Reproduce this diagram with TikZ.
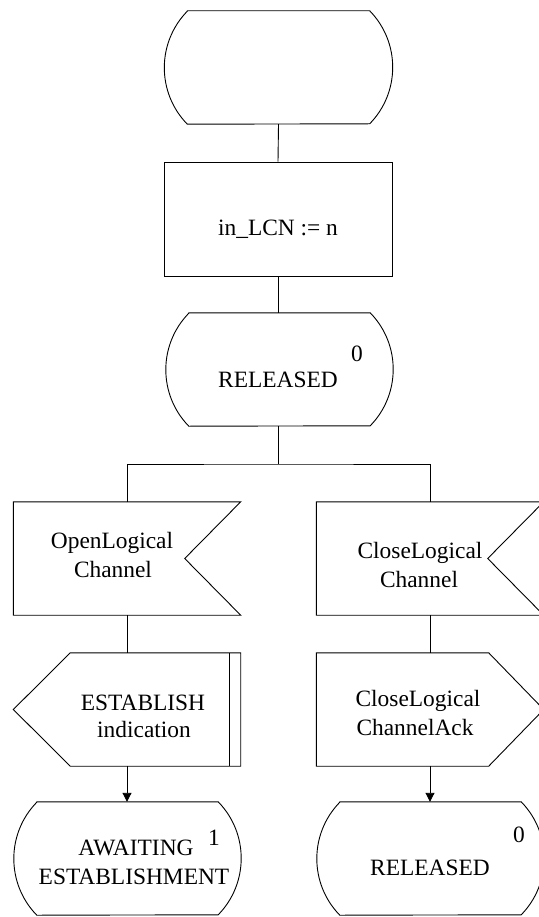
\documentclass[tikz,border=0pt]{standalone}
\usepackage{fontspec}
\setmainfont{Liberation Serif}
\usetikzlibrary{arrows.meta}
\tikzset{
  ln/.style={line width=0.9pt, draw=black},
  slot/.style={draw=none, inner sep=0pt, minimum width=#1, minimum height=113pt},
  slot/.default=227pt,
  taskbox/.style={ln, inner sep=0pt, minimum width=228pt, minimum height=114pt},
  txt/.style={anchor=base, inner sep=0pt, font=\fontsize{23.4}{28}\selectfont},
  arr/.style={ln, -{Triangle[length=9pt,width=9pt]}},
}
\newcommand\stateoutline[1]{%
  \draw[ln] ([xshift=23pt]#1.north west) -- ([xshift=-23pt]#1.north east)
    arc[start angle=44.3, end angle=-44.3, radius=80.9pt]
    -- ([xshift=23pt]#1.south west)
    arc[start angle=224.3, end angle=135.7, radius=80.9pt] -- cycle;}
\newcommand\inputoutline[1]{%
  \draw[ln] (#1.north west) -- (#1.north east) -- ([xshift=-56pt]#1.east)
    -- (#1.south east) -- (#1.south west) -- cycle;}
\newcommand\outleft[1]{%
  \draw[ln] (#1.west) -- ([xshift=57pt]#1.north west) -- (#1.north east)
    -- (#1.south east) -- ([xshift=57pt]#1.south west) -- cycle;
  \draw[ln] ([xshift=-11pt]#1.north east) -- ([xshift=-11pt]#1.south east);}
\newcommand\outright[1]{%
  \draw[ln] (#1.north west) -- ([xshift=-55pt]#1.north east) -- (#1.east)
    -- ([xshift=-55pt]#1.south east) -- (#1.south west) -- cycle;}
\begin{document}
\begin{tikzpicture}[x=1pt,y=1pt]
\useasboundingbox (0,0) rectangle (538,-917);
% shapes
\node[slot=228pt] (start) at (278.5,-67.5) {};
\node[taskbox] (task) at (278,-219) {};
\node[slot] (rel0) at (279.5,-369.5) {};
\node[slot] (in1) at (127,-558.5) {};
\node[slot] (in2) at (430,-558.5) {};
\node[slot] (out1) at (127,-709.5) {};
\node[slot] (out2) at (430,-709.5) {};
\node[slot] (st1) at (127.5,-858.5) {};
\node[slot] (st2) at (430.5,-858.5) {};
\stateoutline{start}
\stateoutline{rel0}
\inputoutline{in1}
\inputoutline{in2}
\outleft{out1}
\outright{out2}
\stateoutline{st1}
\stateoutline{st2}
% texts
\node[txt] (t0) at (278,-236) {in\_LCN := n};
\node[txt] (t1) at (278,-387) {RELEASED};
\node[txt] (t1n) at (357,-361) {0};
\node[txt] (t2a) at (112,-548) {OpenLogical};
\node[txt] (t2b) at (113,-577) {Channel};
\node[txt] (t3a) at (420,-558) {CloseLogical};
\node[txt] (t3b) at (419,-587) {Channel};
\node[txt] (t4a) at (143,-710) {ESTABLISH};
\node[txt] (t4b) at (144,-737) {indication};
\node[txt] (t5a) at (418,-706) {CloseLogical};
\node[txt] (t5b) at (415,-735) {ChannelAck};
\node[txt] (t6a) at (136,-855) {AWAITING};
\node[txt] (t6b) at (134,-884) {ESTABLISHMENT};
\node[txt] (t6n) at (214,-845) {1};
\node[txt] (t7) at (430,-875) {RELEASED};
\node[txt] (t7n) at (519,-842) {0};
% connectors
\coordinate (br) at (278.5,-464);
\draw[ln] (start.south) -- (task.north);
\draw[ln] (task.south) -- (task.south |- rel0.north);
\draw[ln] (rel0.south -| br) -- (br);
\draw[ln] (in1.north) |- (br) -| (in2.north);
\draw[ln] (in1.south) -- (out1.north);
\draw[ln] (in2.south) -- (out2.north);
\draw[arr] (out1.south) -- (st1.north -| out1.south);
\draw[arr] (out2.south) -- (st2.north -| out2.south);
\end{tikzpicture}
\end{document}
